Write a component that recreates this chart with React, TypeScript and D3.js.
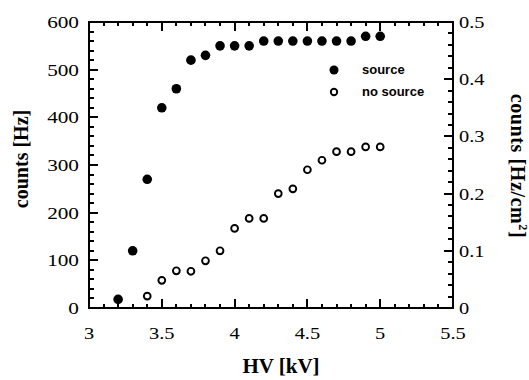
import * as d3 from "d3";

const hv = [3.2, 3.3, 3.4, 3.5, 3.6, 3.7, 3.8, 3.9, 4.0, 4.1, 4.2, 4.3, 4.4, 4.5, 4.6, 4.7, 4.8, 4.9, 5.0];
const source = [18, 120, 270, 420, 460, 520, 530, 550, 550, 550, 560, 560, 560, 560, 560, 560, 560, 570, 570];
const noSourceHv = [3.4, 3.5, 3.6, 3.7, 3.8, 3.9, 4.0, 4.1, 4.2, 4.3, 4.4, 4.5, 4.6, 4.7, 4.8, 4.9, 5.0];
const noSource = [25, 58, 78, 77, 99, 120, 167, 188, 188, 240, 250, 290, 310, 328, 328, 338, 338];

const xTicks = [3, 3.5, 4, 4.5, 5, 5.5];
const yTicks = [0, 100, 200, 300, 400, 500, 600];
const y2Ticks = [0, 0.1, 0.2, 0.3, 0.4, 0.5];
const legendLabels = ["source", "no source"];

const left = 89, right = 453, top = 22, bottom = 308;
const x = d3.scaleLinear().domain([3, 5.5]).range([left, right]);
const y = d3.scaleLinear().domain([0, 600]).range([bottom, top]);
const y2 = d3.scaleLinear().domain([0, 0.5]).range([bottom, top]);
const serif = "'Liberation Serif', 'Times New Roman', serif";

export default function App() {
  const xMinor = d3.range(0, 26).map((i) => ({ v: x(3 + i * 0.1), len: i % 5 === 0 ? 9 : 4 }));
  const yMinor = d3.range(0, 31).map((i) => ({ v: y(i * 20), len: i % 5 === 0 ? 9 : 5 }));
  const y2Minor = d3.range(0, 26).map((i) => ({ v: y2(i * 0.02), len: i % 5 === 0 ? 9 : 5 }));

  return (
    <svg width={529} height={380} style={{ position: "absolute", left: 0, top: 0 }}>
      <g stroke="#000" strokeWidth={2} fill="none" shapeRendering="crispEdges">
        {xMinor.map((t, i) => (
          <g key={"x" + i}>
            <line x1={t.v} y1={bottom} x2={t.v} y2={bottom - t.len} />
            <line x1={t.v} y1={top} x2={t.v} y2={top + t.len} />
          </g>
        ))}
        {yMinor.map((t, i) => (
          <line key={"y" + i} x1={left} y1={t.v} x2={left + t.len} y2={t.v} />
        ))}
        {y2Minor.map((t, i) => (
          <line key={"r" + i} x1={right} y1={t.v} x2={right - t.len} y2={t.v} />
        ))}
        <rect x={left} y={top} width={right - left} height={bottom - top} strokeWidth={2} />
      </g>

      {xTicks.map((d) => (
        <text key={"xl" + d} transform={`translate(${x(d)},339) scale(1.2,1)`} textAnchor="middle"
          fontFamily={serif} fontSize={17}>{String(d)}</text>
      ))}
      {yTicks.map((d) => (
        <text key={"yl" + d} transform={`translate(79,${y(d) + 6}) scale(1.25,1)`} textAnchor="end"
          fontFamily={serif} fontSize={17}>{String(d)}</text>
      ))}
      {y2Ticks.map((d) => (
        <text key={"rl" + d} transform={`translate(459,${y2(d) + 6}) scale(1.2,1)`} textAnchor="start"
          fontFamily={serif} fontSize={17}>{d === 0 ? "0" : d.toFixed(1)}</text>
      ))}

      <text x={281} y={373} textAnchor="middle" fontFamily={serif} fontWeight="bold" fontSize={21}>HV [kV]</text>
      <text transform="translate(28,159) rotate(-90)" textAnchor="middle" fontFamily={serif}
        fontWeight="bold" fontSize={20}>counts [Hz]</text>
      <text transform="translate(511,166) rotate(90)" textAnchor="middle" fontFamily={serif}
        fontWeight="bold" fontSize={20} letterSpacing={0.6}>
        <tspan>counts [Hz/cm</tspan>
        <tspan dy={-8} fontSize={12}>2</tspan>
        <tspan dy={8}>]</tspan>
      </text>

      {hv.map((d, i) => (
        <circle key={"s" + i} cx={x(d)} cy={y(source[i])} r={4.8} fill="#000" />
      ))}
      {noSourceHv.map((d, i) => (
        <circle key={"n" + i} cx={x(d)} cy={y(noSource[i])} r={3.4} fill="#fff" stroke="#000" strokeWidth={1.9} />
      ))}

      <g transform="translate(334,70)">
        {legendLabels.map((lab, i) => (
          <g key={lab} transform={`translate(0,${i * 22})`}>
            {i === 0 ? (
              <circle r={4.5} fill="#000" />
            ) : (
              <circle r={3.2} fill="#fff" stroke="#000" strokeWidth={1.9} />
            )}
            <text x={28} y={4} fontFamily="'Liberation Sans', Arial, sans-serif" fontWeight="bold" fontSize={13}>
              {lab}
            </text>
          </g>
        ))}
      </g>
    </svg>
  );
}
